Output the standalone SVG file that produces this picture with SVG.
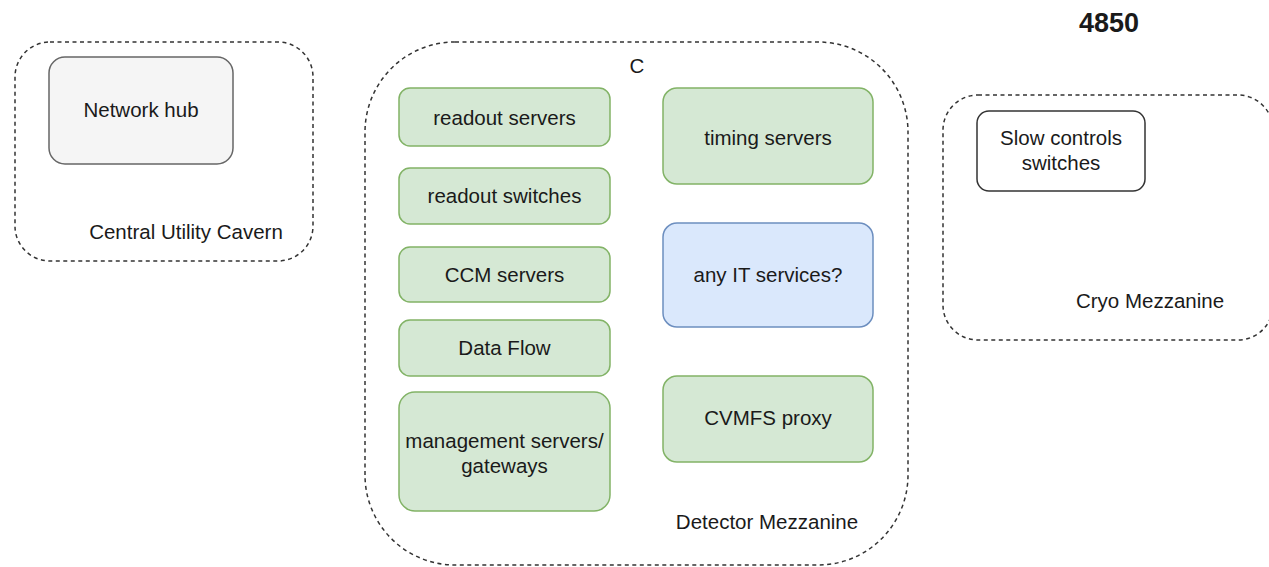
<svg xmlns="http://www.w3.org/2000/svg" width="1269" height="567" viewBox="0 0 1269 567">
  <style>
    .zone { fill: none; stroke: #333; stroke-width: 1.5; stroke-dasharray: 4 3.5; }
    .green { fill: #d5e8d4; stroke: #82b366; stroke-width: 1.5; }
    .blue { fill: #dae8fc; stroke: #6c8ebf; stroke-width: 1.5; }
    .grey { fill: #f5f5f5; stroke: #666; stroke-width: 1.5; }
    .plain { fill: #fff; stroke: #333; stroke-width: 1.5; }
    text { font-family: "Liberation Sans", Arial, Helvetica, sans-serif; font-size: 20.5px; fill: #1a1a1a; text-anchor: middle; }
    .title { font-weight: bold; font-size: 27px; }
  </style>

  <rect width="1269" height="567" fill="#fff"/>

  <text id="site-label" class="title" x="1109" y="32">4850</text>

  <!-- Central Utility Cavern -->
  <g id="central-utility-cavern">
    <rect class="zone" x="15" y="42" width="298" height="219" rx="35" ry="35"/>
    <text x="186" y="239">Central Utility Cavern</text>
  </g>
  <g id="network-hub">
    <rect class="grey" x="49" y="57" width="184" height="107" rx="16" ry="16"/>
    <text x="141" y="117">Network hub</text>
  </g>

  <!-- Detector Mezzanine -->
  <g id="detector-mezzanine">
    <rect class="zone" x="365" y="42" width="543" height="523" rx="90" ry="90"/>
    <text x="637" y="73">C</text>
    <text x="767" y="529">Detector Mezzanine</text>
  </g>
  <g id="readout-servers">
    <rect class="green" x="399" y="88" width="211" height="58" rx="11" ry="11"/>
    <text x="504.5" y="125">readout servers</text>
  </g>
  <g id="readout-switches">
    <rect class="green" x="399" y="168" width="211" height="56" rx="11" ry="11"/>
    <text x="504.5" y="203">readout switches</text>
  </g>
  <g id="ccm-servers">
    <rect class="green" x="399" y="247" width="211" height="55" rx="11" ry="11"/>
    <text x="504.5" y="282">CCM servers</text>
  </g>
  <g id="data-flow">
    <rect class="green" x="399" y="320" width="211" height="56" rx="11" ry="11"/>
    <text x="504.5" y="355">Data Flow</text>
  </g>
  <g id="management-servers">
    <rect class="green" x="399" y="392" width="211" height="119" rx="16" ry="16"/>
    <text x="504.5" y="448">management servers/</text>
    <text x="504.5" y="473">gateways</text>
  </g>
  <g id="timing-servers">
    <rect class="green" x="663" y="88" width="210" height="96" rx="14" ry="14"/>
    <text x="768" y="145">timing servers</text>
  </g>
  <g id="it-services">
    <rect class="blue" x="663" y="223" width="210" height="104" rx="14" ry="14"/>
    <text x="768" y="282">any IT services?</text>
  </g>
  <g id="cvmfs-proxy">
    <rect class="green" x="663" y="376" width="210" height="86" rx="14" ry="14"/>
    <text x="768" y="425">CVMFS proxy</text>
  </g>

  <!-- Cryo Mezzanine -->
  <g id="cryo-mezzanine">
    <rect class="zone" x="943" y="95" width="330" height="245" rx="35" ry="35"/>
    <text x="1150" y="308">Cryo Mezzanine</text>
  </g>
  <g id="slow-controls-switches">
    <rect class="plain" x="977" y="111" width="168" height="80" rx="12" ry="12"/>
    <text x="1061" y="145">Slow controls</text>
    <text x="1061" y="170">switches</text>
  </g>

  <g id="connectors"></g>
</svg>
